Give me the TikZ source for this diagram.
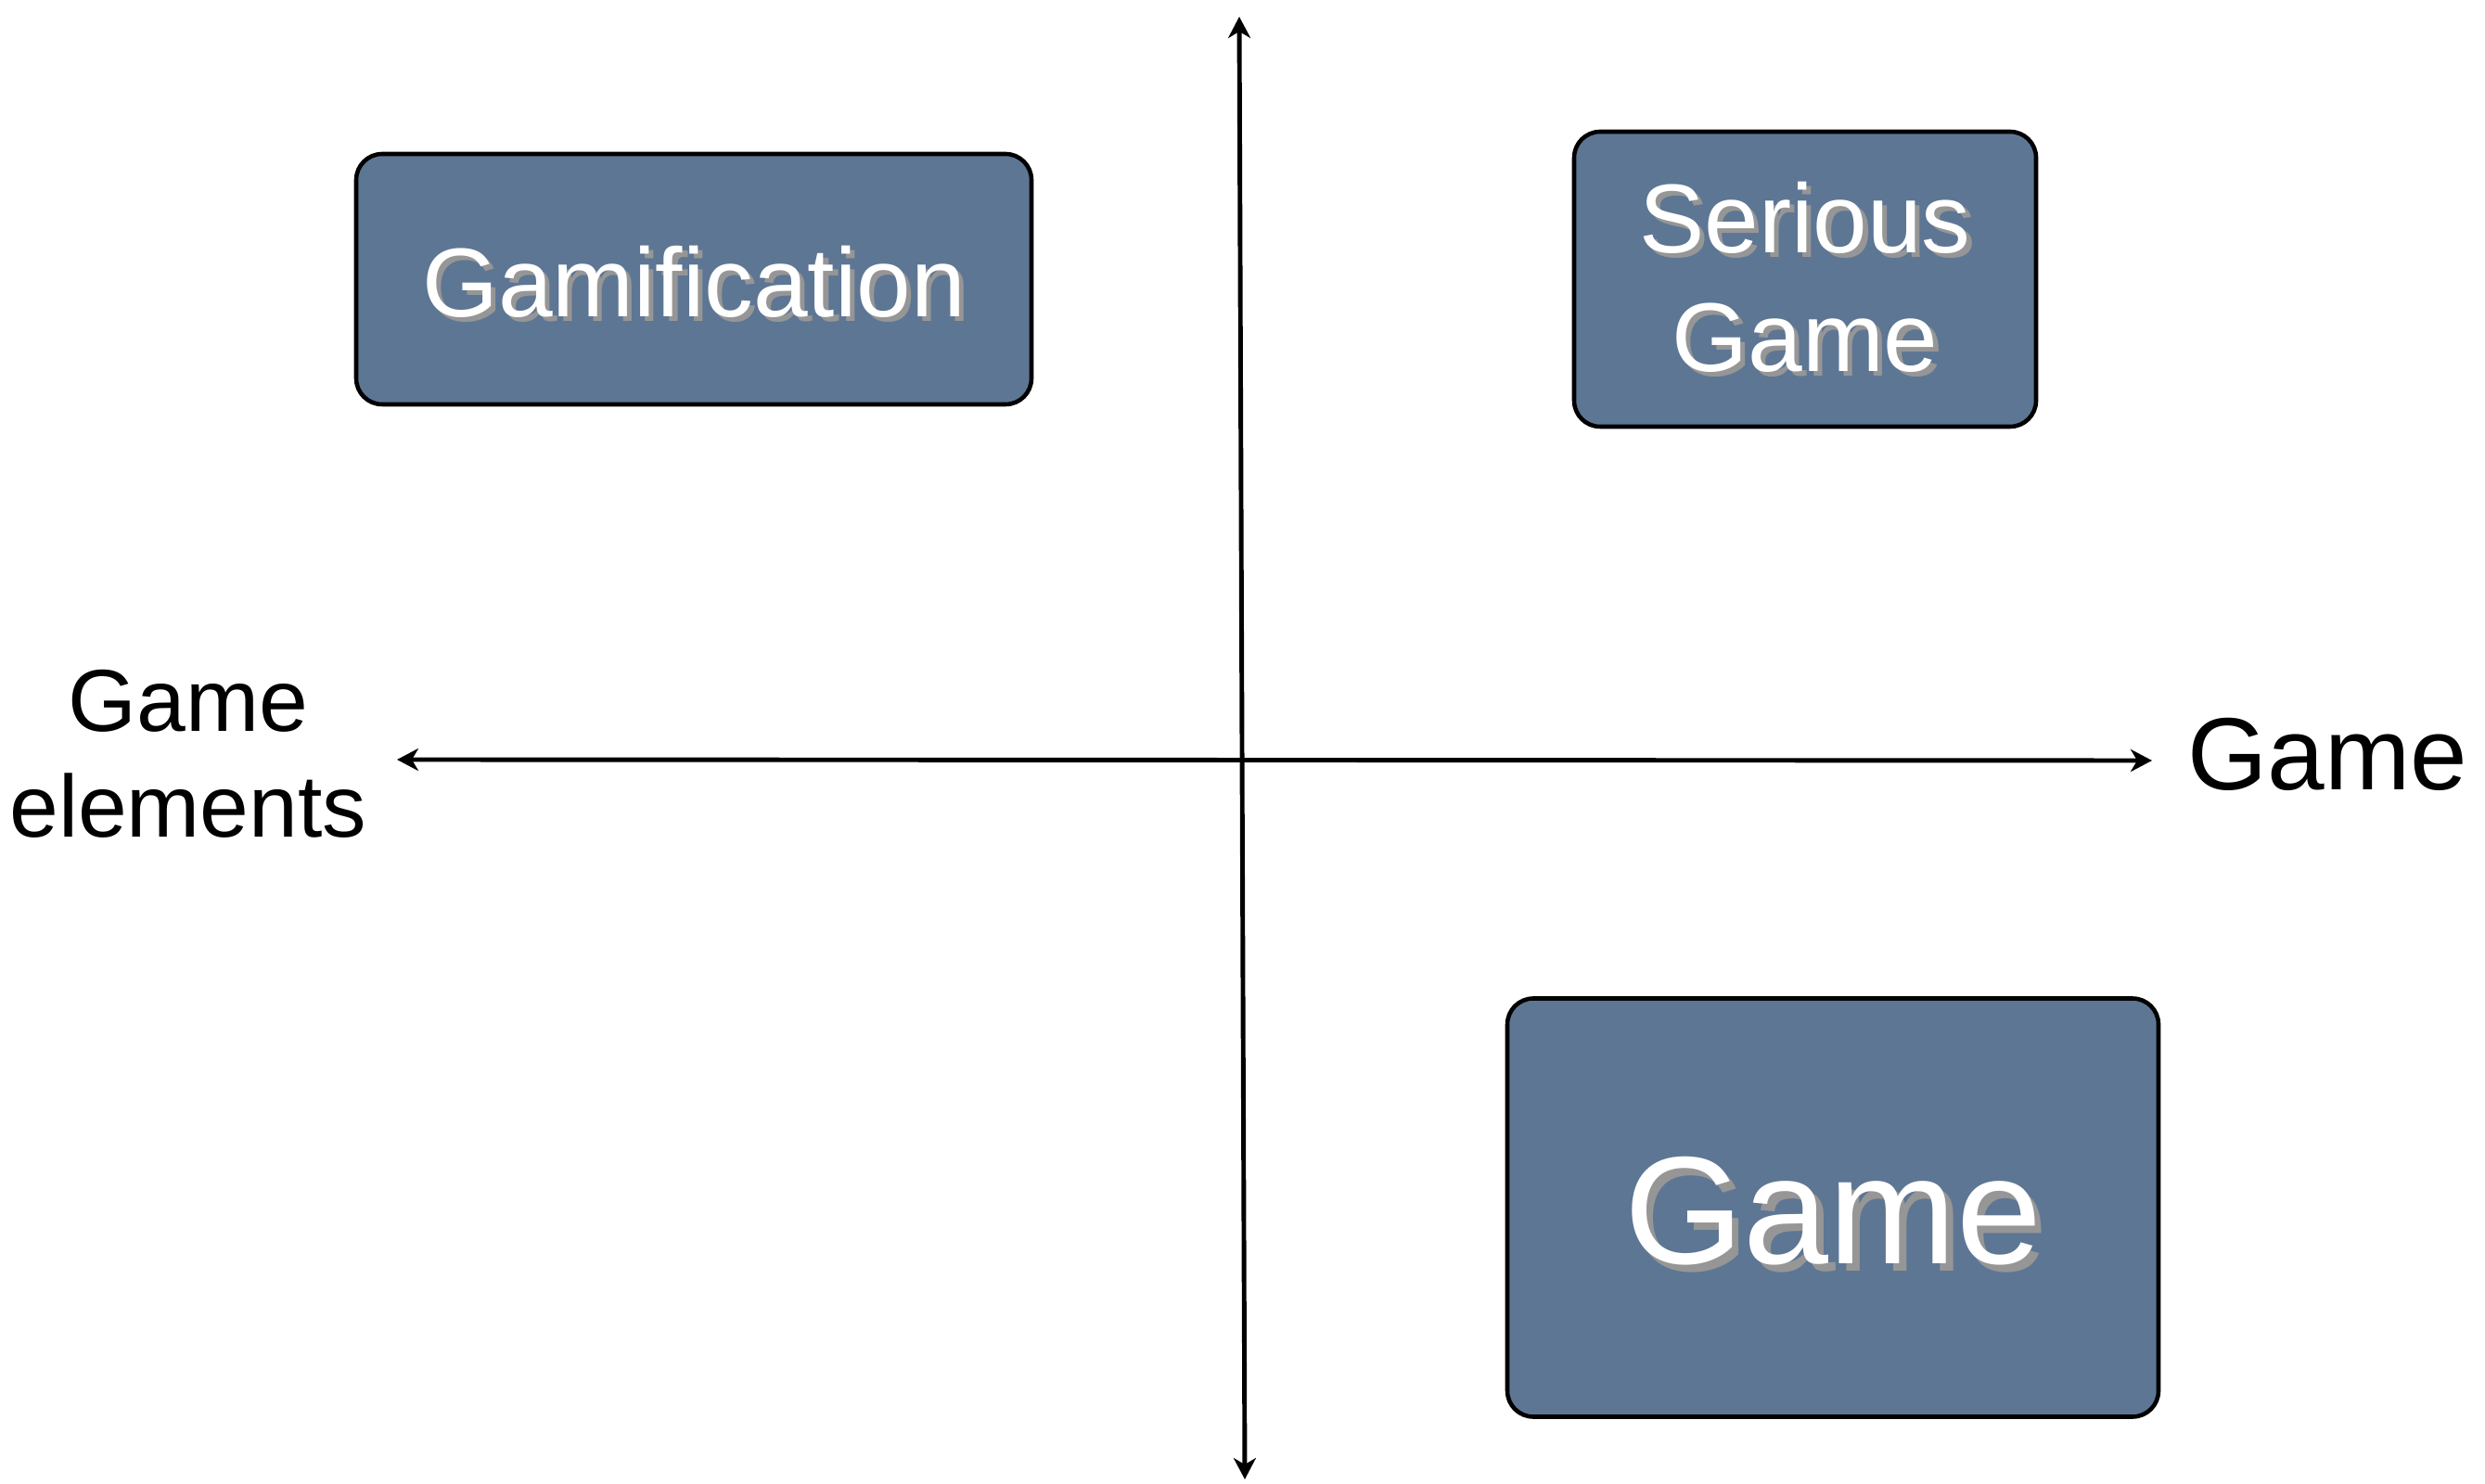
\documentclass[tikz,border=0pt]{standalone}
\usepackage{fontspec}
\setmainfont{Liberation Sans}
\usepackage{tikz}
\usetikzlibrary{arrows.meta, positioning}
\definecolor{BoxBlue}{RGB}{93, 118, 148}
\definecolor{ShadeGray}{RGB}{150, 150, 150}
\newcommand{\shtext}[2][1.5pt]{\leavevmode\rlap{\hspace{#1}\raisebox{-#1}{\textcolor{ShadeGray}{#2}}}#2}

\begin{document}
\begin{tikzpicture}[
    every node/.style={align=center},
    quad/.style={draw=black, line width=1.3pt, fill=BoxBlue, rounded corners=0.28cm,
                 text=white, inner sep=0pt},
    axislabel/.style={inner sep=0pt, text=black},
    axis/.style={line width=1.4pt, {Stealth[length=0.23cm, width=0.24cm, inset=0.07cm]}-{Stealth[length=0.23cm, width=0.24cm, inset=0.07cm]}}
]
\useasboundingbox (0,0) rectangle (26.79,15.99);
% axes
\coordinate (yt) at (13.36,15.81);
\coordinate (yb) at (13.42,0.04);
\coordinate (xl) at (4.28,7.80);
\coordinate (xr) at (23.20,7.79);
\draw[axis] (yb) -- (yt);
\draw[axis] (xl) -- (xr);
\node[axislabel, left=0.32cm of xl, yshift=0.06cm, font=\fontsize{27}{32.4}\selectfont] (lblelem) {Game\\elements};
\node[axislabel, right=0.38cm of xr, yshift=0.07cm, font=\fontsize{31.5}{38}\selectfont] (lblgame) {Game};
% quadrants
\node[quad, minimum width=7.28cm, minimum height=2.70cm, font=\fontsize{30}{36}\selectfont] (gamif) at (7.48,12.98) {\raisebox{-0.05cm}[\height][\depth]{\shtext{Gamification}}};
\node[quad, minimum width=4.98cm, minimum height=3.18cm, font=\fontsize{30}{36.4}\selectfont] (serious) at (19.46,12.98) {\shtext{Serious}\\\shtext{Game}};
\node[quad, minimum width=7.02cm, minimum height=4.51cm, font=\fontsize{47}{56}\selectfont] (game) at (19.76,2.97) {\raisebox{-0.08cm}[\height][\depth]{\shtext[2.2pt]{Game}}};
\end{tikzpicture}
\end{document}
